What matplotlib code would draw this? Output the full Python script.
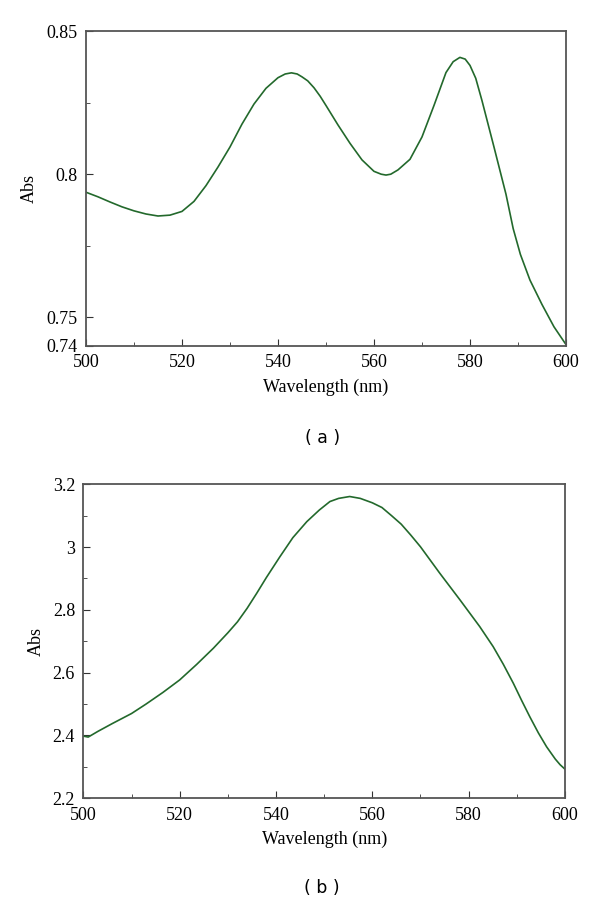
import matplotlib.pyplot as plt
from matplotlib.ticker import MultipleLocator, FixedLocator

# panel (a) spectrum
wl_a = [500, 502.5, 505, 507.5, 510, 512.5, 515, 517.5, 520, 522.5, 525, 527.5,
        530, 532.5, 535, 537.5, 540, 541.5, 542.8, 544, 545, 546.2, 547.5, 548.8,
        550, 552.5, 555, 557.5, 560, 561.5, 562.5, 563.5, 565, 567.5, 570, 572.5,
        575, 576.5, 577.9, 579, 580, 581.2, 582.5, 585, 587.5, 589, 590.5, 592.5,
        595, 597.5, 600]
abs_a = [0.7937, 0.7921, 0.7903, 0.7886, 0.7872, 0.7861, 0.7854, 0.7857, 0.7870,
         0.7905, 0.7960, 0.8025, 0.8095, 0.8175, 0.8245, 0.8300, 0.8337, 0.8350,
         0.8354, 0.8350, 0.8340, 0.8326, 0.8302, 0.8272, 0.8240, 0.8172, 0.8108,
         0.8050, 0.8010, 0.8000, 0.7997, 0.8000, 0.8015, 0.8052, 0.8130, 0.8240,
         0.8355, 0.8393, 0.8408, 0.8402, 0.8380, 0.8335, 0.8257, 0.8095, 0.7930,
         0.7810, 0.7720, 0.7630, 0.7545, 0.7467, 0.7405]

# panel (b) spectrum
wl_b = [500, 501, 503, 506, 510, 513, 516.5, 520, 523.5, 527, 530, 532, 534,
        536, 538, 540.8, 543.5, 546.4, 549, 551.2, 553, 555.3, 557.5, 560, 562,
        564, 566, 568, 570, 574, 578.2, 582.3, 585.1, 587.2, 589.3, 591, 592.7,
        594.5, 596.2, 598, 599, 600]
abs_b = [2.398, 2.395, 2.413, 2.438, 2.470, 2.500, 2.537, 2.577, 2.626, 2.678,
         2.727, 2.762, 2.805, 2.853, 2.903, 2.969, 3.030, 3.081, 3.118, 3.145,
         3.155, 3.161, 3.155, 3.141, 3.126, 3.100, 3.073, 3.038, 3.001, 2.917,
         2.832, 2.747, 2.683, 2.627, 2.566, 2.512, 2.460, 2.408, 2.364, 2.325,
         2.307, 2.293]

yticks_a = [0.74, 0.75, 0.8, 0.85]
ylabels_a = ['0.74', '0.75', '0.8', '0.85']
yticks_b = [2.2, 2.4, 2.6, 2.8, 3.0, 3.2]
ylabels_b = ['2.2', '2.4', '2.6', '2.8', '3', '3.2']

line_color = '#23692c'
spine_color = '#555555'
plt.rcParams['font.family'] = ['Liberation Serif', 'DejaVu Serif']

fig = plt.figure(figsize=(6, 9.05), dpi=100)
ax1 = fig.add_axes([0.1433, 0.6177, 0.80, 0.348])
ax2 = fig.add_axes([0.139, 0.1179, 0.8025, 0.347])


def style(ax):
    for s in ax.spines.values():
        s.set_color(spine_color)
        s.set_linewidth(1.3)
    ax.tick_params(which='both', direction='in', top=False, right=False,
                   labelsize=13, color='#333333', pad=6)
    ax.tick_params(which='major', length=5)
    ax.tick_params(which='minor', length=3)
    ax.set_xlim(500, 600)
    ax.xaxis.set_major_locator(MultipleLocator(20))
    ax.xaxis.set_minor_locator(MultipleLocator(10))
    ax.set_xlabel('Wavelength (nm)', fontsize=13, labelpad=5)
    ax.set_ylabel('Abs', fontsize=13, labelpad=6)


ax1.plot(wl_a, abs_a, color=line_color, lw=1.2)
style(ax1)
ax1.set_ylim(0.74, 0.85)
ax1.set_yticks(yticks_a)
ax1.set_yticklabels(ylabels_a)
ax1.yaxis.set_minor_locator(FixedLocator([0.775, 0.825]))

ax2.plot(wl_b, abs_b, color=line_color, lw=1.2)
style(ax2)
ax2.set_ylim(2.2, 3.2)
ax2.set_yticks(yticks_b)
ax2.set_yticklabels(ylabels_b)
ax2.yaxis.set_minor_locator(MultipleLocator(0.1))

fig.text(0.537, 1 - 438 / 905, '( a )', ha='center', va='center',
         fontsize=12.5, family='DejaVu Sans')
fig.text(0.537, 1 - 888 / 905, '( b )', ha='center', va='center',
         fontsize=12.5, family='DejaVu Sans')

fig.savefig('out.png', dpi=100)
